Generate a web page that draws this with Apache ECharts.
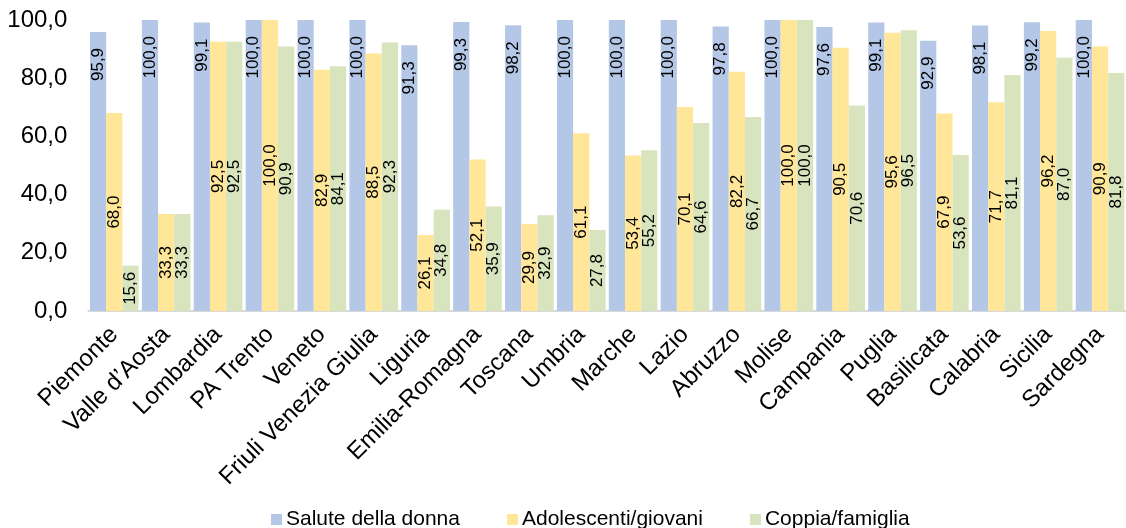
<!DOCTYPE html>
<html>
<head>
<meta charset="utf-8">
<script src="https://cdn.jsdelivr.net/npm/echarts@6/dist/echarts.min.js"></script>
<style>
html,body{margin:0;padding:0;background:#fff;}
#chart{width:1126px;height:528px;}
</style>
</head>
<body>
<div id="chart"></div>
<script>
const categories = ["Piemonte","Valle d\u2019Aosta","Lombardia","PA Trento","Veneto","Friuli Venezia Giulia","Liguria","Emilia-Romagna","Toscana","Umbria","Marche","Lazio","Abruzzo","Molise","Campania","Puglia","Basilicata","Calabria","Sicilia","Sardegna"];
const seriesNames = ["Salute della donna","Adolescenti/giovani","Coppia/famiglia"];
const saluteDonna = [95.9,100.0,99.1,100.0,100.0,100.0,91.3,99.3,98.2,100.0,100.0,100.0,97.8,100.0,97.6,99.1,92.9,98.1,99.2,100.0];
const adolescenti = [68.0,33.3,92.5,100.0,82.9,88.5,26.1,52.1,29.9,61.1,53.4,70.1,82.2,100.0,90.5,95.6,67.9,71.7,96.2,90.9];
const coppia = [15.6,33.3,92.5,90.9,84.1,92.3,34.8,35.9,32.9,27.8,55.2,64.6,66.7,100.0,70.6,96.5,53.6,81.1,87.0,81.8];
const yTicks = [0,20,40,60,80,100];

const fmt = v => Number(v).toFixed(1).replace('.', ',');
const font = 'Liberation Sans, Arial, sans-serif';

const chart = echarts.init(document.getElementById('chart'), null, {renderer:'canvas'});

function mkSeries(name, data, color, top) {
  return {
    name: name,
    type: 'bar',
    data: data,
    barGap: '0%',
    barCategoryGap: '6.3%',
    itemStyle: {color: color},
    label: top ? {
      show: true, position: 'insideTop', distance: 0, offset: [-16, 0], rotate: 90,
      align: 'right', verticalAlign: 'middle',
      color: '#000', fontSize: 17, fontFamily: font,
      formatter: p => fmt(p.value)
    } : {
      show: true, position: 'inside', rotate: 90,
      align: 'center', verticalAlign: 'middle',
      color: '#000', fontSize: 17, fontFamily: font,
      formatter: p => fmt(p.value)
    },
    emphasis: {disabled: true}
  };
}

chart.setOption({
  animation: false,
  textStyle: {fontFamily: font},
  grid: {left: 88.35, top: 20, width: 1043.2, height: 291, containLabel: false},
  legend: {
    data: seriesNames,
    left: 266, top: 504,
    itemWidth: 11, itemHeight: 11, itemGap: 47,
    icon: 'rect',
    textStyle: {fontSize: 21, color: '#000', fontFamily: font, padding: [0,0,0,-1]}
  },
  xAxis: {
    type: 'category',
    data: categories,
    axisLine: {show: true, lineStyle: {color: '#D9D9D9', width: 2}},
    axisTick: {show: false},
    axisLabel: {rotate: 45, fontSize: 24, color: '#000', fontFamily: font, margin: 20, interval: 0}
  },
  yAxis: {
    type: 'value',
    min: yTicks[0], max: yTicks[yTicks.length-1], interval: 20,
    splitLine: {show: false},
    axisLine: {show: false},
    axisTick: {show: false},
    axisLabel: {fontSize: 24, color: '#000', fontFamily: font, margin: 21, formatter: v => fmt(v)}
  },
  series: [
    mkSeries(seriesNames[0], saluteDonna, '#B4C7E7', true),
    mkSeries(seriesNames[1], adolescenti, '#FFE699', false),
    mkSeries(seriesNames[2], coppia, '#D7E4BD', false)
  ]
});
</script>
</body>
</html>
